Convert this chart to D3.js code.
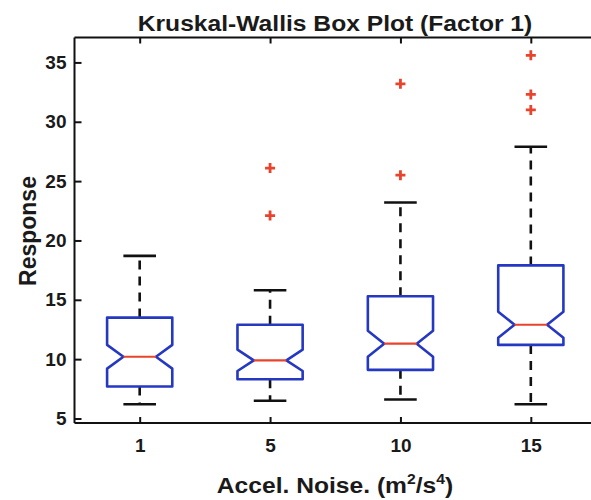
<!DOCTYPE html>
<html>
<head>
<meta charset="utf-8">
<script src="https://cdn.jsdelivr.net/npm/d3@7"></script>
<style>
  html, body { margin: 0; padding: 0; background: #fff; }
  svg { display: block; }
  text { font-family: "Liberation Sans", Arial, sans-serif; font-weight: bold; fill: #1a1a1a; }
</style>
</head>
<body>
<svg id="chart" width="591" height="500"></svg>
<script>
// Group labels (noise level) and box statistics per group
const categories = ["1", "5", "10", "15"];
const upperWhisker = [18.7, 15.8, 23.2, 27.9];
const q3 = [13.5, 12.9, 15.3, 17.9];
const median = [10.2, 9.9, 11.3, 12.9];
const q1 = [7.7, 8.3, 9.1, 11.2];
const lowerWhisker = [6.2, 6.5, 6.6, 6.2];
const notchHalf = [1.0, 0.9, 1.1, 1.1];
const outliers = [[], [26.1, 22.1], [33.2, 25.5], [35.6, 32.3, 31.0]];
const yTicks = [5, 10, 15, 20, 25, 30, 35];

const svg = d3.select("#chart");
const plotLeft = 74.5, plotRight = 596, plotTop = 37.5, plotBottom = 423;

const x = d3.scaleLinear().domain([0.5, categories.length + 0.5]).range([plotLeft, plotRight]);
const y = d3.scaleLinear().domain([4.62, 37.1]).range([plotBottom, plotTop]);

const blue = "#2438c2", red = "#e8432c", black = "#111";
const unit = x(1) - x(0);
const boxHalf = unit * 0.25;
const capHalf = unit * 0.125;
const notchInset = boxHalf * 0.5;
const fontFamily = "Liberation Sans, Arial, sans-serif";

const plot = svg.append("g");

// Whiskers (dashed) and caps
categories.forEach((c, i) => {
  const cx = x(i + 1);
  plot.append("line")
    .attr("x1", cx).attr("x2", cx)
    .attr("y1", y(q3[i])).attr("y2", y(upperWhisker[i]))
    .attr("stroke", black).attr("stroke-width", 2.6).attr("stroke-dasharray", "9,7");
  plot.append("line")
    .attr("x1", cx).attr("x2", cx)
    .attr("y1", y(q1[i])).attr("y2", y(lowerWhisker[i]))
    .attr("stroke", black).attr("stroke-width", 2.6).attr("stroke-dasharray", "9,7");
  [upperWhisker[i], lowerWhisker[i]].forEach(v => {
    plot.append("line")
      .attr("x1", cx - capHalf).attr("x2", cx + capHalf)
      .attr("y1", y(v)).attr("y2", y(v))
      .attr("stroke", black).attr("stroke-width", 2.6);
  });
});

// Notched boxes
categories.forEach((c, i) => {
  const cx = x(i + 1);
  const l = cx - boxHalf, r = cx + boxHalf;
  const pts = [
    [l, y(q3[i])], [r, y(q3[i])],
    [r, y(median[i] + notchHalf[i])], [r - notchInset, y(median[i])], [r, y(median[i] - notchHalf[i])],
    [r, y(q1[i])], [l, y(q1[i])],
    [l, y(median[i] - notchHalf[i])], [l + notchInset, y(median[i])], [l, y(median[i] + notchHalf[i])]
  ];
  plot.append("path")
    .attr("d", d3.line()(pts) + "Z")
    .attr("fill", "none").attr("stroke", blue).attr("stroke-width", 2.6)
    .attr("stroke-linejoin", "round");
  plot.append("line")
    .attr("x1", l + notchInset).attr("x2", r - notchInset)
    .attr("y1", y(median[i])).attr("y2", y(median[i]))
    .attr("stroke", red).attr("stroke-width", 2.2);
});

// Outlier markers
const plus = 5;
categories.forEach((c, i) => {
  outliers[i].forEach(v => {
    const cx = x(i + 1), cy = y(v);
    plot.append("path")
      .attr("d", `M${cx - plus},${cy}H${cx + plus}M${cx},${cy - plus}V${cy + plus}`)
      .attr("stroke", red).attr("stroke-width", 2.8).attr("fill", "none");
  });
});

// Axes frame
const frame = svg.append("g").attr("stroke", black).attr("stroke-width", 2).attr("fill", "none");
frame.append("line").attr("x1", plotLeft).attr("x2", plotRight).attr("y1", plotBottom).attr("y2", plotBottom);
frame.append("line").attr("x1", plotLeft).attr("x2", plotRight).attr("y1", plotTop).attr("y2", plotTop);
frame.append("line").attr("x1", plotLeft).attr("x2", plotLeft).attr("y1", plotTop).attr("y2", plotBottom);

// Bottom and top ticks (inward), with labels on the bottom
const xAxis = d3.axisBottom(x)
  .tickValues(d3.range(1, categories.length + 1))
  .tickFormat(d => categories[d - 1])
  .tickSizeInner(-6).tickSizeOuter(0).tickPadding(16);
const gx = svg.append("g").attr("transform", `translate(0,${plotBottom})`).call(xAxis);
gx.select(".domain").remove();
gx.selectAll(".tick line").attr("stroke", black).attr("stroke-width", 2);
gx.selectAll(".tick text").attr("font-size", 19).attr("font-family", fontFamily)
  .attr("font-weight", "bold").attr("fill", "#1a1a1a");

const xTop = d3.axisTop(x).tickValues(d3.range(1, categories.length + 1))
  .tickFormat("").tickSizeInner(-6).tickSizeOuter(0);
const gt = svg.append("g").attr("transform", `translate(0,${plotTop})`).call(xTop);
gt.select(".domain").remove();
gt.selectAll(".tick line").attr("stroke", black).attr("stroke-width", 2);

// Left ticks (inward) with labels
const yAxis = d3.axisLeft(y).tickValues(yTicks).tickFormat(d3.format("d"))
  .tickSizeInner(-7).tickSizeOuter(0).tickPadding(8);
const gy = svg.append("g").attr("transform", `translate(${plotLeft},0)`).call(yAxis);
gy.select(".domain").remove();
gy.selectAll(".tick line").attr("stroke", black).attr("stroke-width", 2);
gy.selectAll(".tick text").attr("font-size", 19).attr("font-family", fontFamily)
  .attr("font-weight", "bold").attr("fill", "#1a1a1a");

// Title and axis labels
svg.append("text").attr("transform", "translate(335,31) scale(1.12,1)").attr("text-anchor", "middle")
  .attr("font-size", 22).text("Kruskal-Wallis Box Plot (Factor 1)");

svg.append("text").attr("transform", "translate(36,231) rotate(-90)").attr("text-anchor", "middle")
  .attr("font-size", 23).text("Response");

const xl = svg.append("text").attr("transform", "translate(335,493) scale(1.12,1)")
  .attr("text-anchor", "middle").attr("font-size", 22);
xl.append("tspan").text("Accel. Noise. (m");
xl.append("tspan").attr("font-size", 14).attr("dy", -9).text("2");
xl.append("tspan").attr("dy", 9).text("/s");
xl.append("tspan").attr("font-size", 14).attr("dy", -9).text("4");
xl.append("tspan").attr("dy", 9).text(")");
</script>
</body>
</html>
